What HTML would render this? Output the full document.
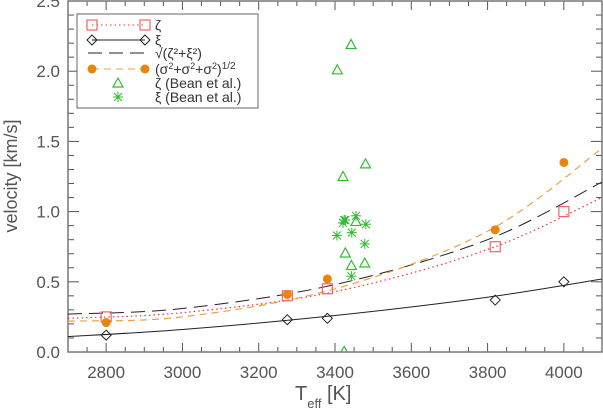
<!DOCTYPE html>
<html><head><meta charset="utf-8"><style>
body{margin:0;background:#fff;}
svg{display:block;font-family:"Liberation Sans",sans-serif;}
</style></head><body>
<svg id="chart" width="603" height="413" viewBox="0 0 603 413" xmlns="http://www.w3.org/2000/svg"></svg>
<script>
const xTicks=[2800,3000,3200,3400,3600,3800,4000];
const yTicks=[0.0,0.5,1.0,1.5,2.0,2.5];
const yTickLabels=["0.0","0.5","1.0","1.5","2.0","2.5"];
const starT=[2800,3275,3380,3820,4000];
const zetaVals=[0.25,0.40,0.45,0.75,1.00];
const xiVals=[0.12,0.23,0.24,0.37,0.50];
const sigmaVals=[0.21,0.41,0.52,0.87,1.35];
const curveT=[2700,3000,3400,3800,4100];
const zetaFit=[0.24,0.28,0.43,0.73,1.10];
const xiFit=[0.11,0.16,0.26,0.39,0.52];
const totFit=[0.27,0.31,0.48,0.80,1.21];
const sigmaFit=[0.22,0.25,0.45,0.86,1.45];
const beanZetaT=[3442,3406,3480,3421,3455,3427,3443,3478,3424];
const beanZetaV=[2.19,2.01,1.34,1.25,0.93,0.705,0.616,0.634,0.005];
const beanXiT=[3424,3421,3455,3481,3405,3444,3478,3443,3427];
const beanXiV=[0.94,0.92,0.97,0.91,0.83,0.85,0.77,0.54,0.94];

const svg=document.getElementById('chart');
const NS='http://www.w3.org/2000/svg';
const X0=68,X1=602,Y0=352,Y1=1;
const xs=t=>X0+(t-2700)/(4100-2700)*(X1-X0);
const ys=v=>Y0-(v/2.5)*(Y0-Y1);
function mk(tag,at,parent){const e=document.createElementNS(NS,tag);for(const k in at)e.setAttribute(k,at[k]);(parent||svg).appendChild(e);return e;}
const AX='#555';
const TX='#555';
const defs=mk('defs',{});const cp=mk('clipPath',{id:'clip'},defs);mk('rect',{x:X0,y:Y1,width:X1-X0,height:Y0-Y1},cp);
const tg=mk('g',{});


for(let t=2700;t<=4100;t+=50){const major=t%200===0;const L=major?9:5;const x=xs(t);
 mk('line',{x1:x,y1:Y0,x2:x,y2:Y0-L,stroke:AX,'stroke-width':1},tg);
 mk('line',{x1:x,y1:Y1,x2:x,y2:Y1+L,stroke:AX,'stroke-width':1},tg);}
for(let i=0;i<=25;i++){const v=i/10;const major=i%5===0;const L=major?11:6;const y=ys(v);
 mk('line',{x1:X0,y1:y,x2:X0+L,y2:y,stroke:AX,'stroke-width':1},tg);
 mk('line',{x1:X1,y1:y,x2:X1-L,y2:y,stroke:AX,'stroke-width':1},tg);}
const frame=mk('rect',{x:X0,y:Y1,width:X1-X0,height:Y0-Y1,fill:'none',stroke:'#777','stroke-width':1.5});


xTicks.forEach(t=>{const e=mk('text',{x:xs(t),y:Y0+26,'text-anchor':'middle','font-size':17,fill:TX});e.textContent=t;
 
 });
yTicks.forEach((v,i)=>{const e=mk('text',{x:X0-8,y:ys(v)+6,'text-anchor':'end','font-size':17,fill:TX});e.textContent=yTickLabels[i];
 
 });
const xt=mk('text',{x:295,y:400,'font-size':20,fill:TX});xt.innerHTML='T<tspan font-size="13" dy="8">eff</tspan><tspan dy="-8"> [K]</tspan>';


const yt=mk('text',{x:0,y:0,'font-size':18,fill:TX,'text-anchor':'middle',transform:'translate(17,176) rotate(-90)'});yt.textContent='velocity [km/s]';


function curvePath(T,V){const p=T.map((t,i)=>[xs(t),ys(V[i])]);let d='M'+p[0][0]+','+p[0][1];
 for(let i=0;i<p.length-1;i++){const p0=p[i-1]||p[i],p1=p[i],p2=p[i+1],p3=p[i+2]||p[i+1];
  const c1=[p1[0]+(p2[0]-p0[0])/6,p1[1]+(p2[1]-p0[1])/6],c2=[p2[0]-(p3[0]-p1[0])/6,p2[1]-(p3[1]-p1[1])/6];
  d+=' C'+c1+' '+c2+' '+p2;}return d;}
const cg=mk('g',{'clip-path':'url(#clip)'});
const c1=mk('path',{d:curvePath(curveT,xiFit),fill:'none',stroke:'#222','stroke-width':1},cg);


const c2=mk('path',{d:curvePath(curveT,zetaFit),fill:'none',stroke:'#e33','stroke-width':1.2,'stroke-dasharray':'1.5 3'},cg);


const c3=mk('path',{d:curvePath(curveT,totFit),fill:'none',stroke:'#222','stroke-width':1,'stroke-dasharray':'14 7'},cg);


const c4=mk('path',{d:curvePath(curveT,sigmaFit),fill:'none',stroke:'#f0a040','stroke-width':1.2,'stroke-dasharray':'7 5'},cg);


function square(x,y,g){return mk('rect',{x:x-5,y:y-5,width:10,height:10,fill:'none',stroke:'#e66','stroke-width':1.2},g);}
function diamond(x,y,g){return mk('path',{d:`M${x},${y-5} L${x+5},${y} L${x},${y+5} L${x-5},${y} Z`,fill:'none',stroke:'#222','stroke-width':1},g);}
function circle(x,y,g){return mk('circle',{cx:x,cy:y,r:4.5,fill:'#e8850a'},g);}
function tri(x,y,g){return mk('path',{d:`M${x},${y-5} L${x+5},${y+4} L${x-5},${y+4} Z`,fill:'none',stroke:'#3b3','stroke-width':1.2},g);}
function star(x,y,g){return mk('path',{d:`M${x-5},${y} H${x+5} M${x},${y-5} V${y+5} M${x-4},${y-4} L${x+4},${y+4} M${x-4},${y+4} L${x+4},${y-4}`,fill:'none',stroke:'#3b3','stroke-width':1},g);}
const mg=mk('g',{'clip-path':'url(#clip)'});
starT.forEach((t,i)=>{let e=square(xs(t),ys(zetaVals[i]),mg);
 
 
 e=diamond(xs(t),ys(xiVals[i]),mg);
 
 
 e=circle(xs(t),ys(sigmaVals[i]),mg);
 
 });
beanZetaT.forEach((t,i)=>{const e=tri(xs(t),ys(beanZetaV[i]),mg);
 
 });
beanXiT.forEach((t,i)=>{const e=star(xs(t),ys(beanXiV[i]),mg);
 
 });
const lg=mk('g',{});


mk('rect',{x:77,y:14,width:181,height:94,fill:'#fff',stroke:'#666','stroke-width':1},lg);
const rows=[25,40,53,69,83,97];
mk('line',{x1:92,y1:rows[0],x2:145,y2:rows[0],stroke:'#e33','stroke-dasharray':'1.5 3'},lg);square(92,rows[0],lg);square(145,rows[0],lg);
mk('line',{x1:92,y1:rows[1],x2:145,y2:rows[1],stroke:'#222'},lg);diamond(92,rows[1],lg);diamond(145,rows[1],lg);
mk('line',{x1:88,y1:rows[2],x2:145,y2:rows[2],stroke:'#222','stroke-dasharray':'14 7'},lg);
mk('line',{x1:92,y1:rows[3],x2:145,y2:rows[3],stroke:'#f0a040','stroke-dasharray':'7 5'},lg);circle(92,rows[3],lg);circle(145,rows[3],lg);
tri(118,rows[4],lg);star(118,rows[5],lg);
const labels=['ζ','ξ','√(ζ²+ξ²)','(σ<tspan dy="-5" font-size="9">2</tspan><tspan dy="5">+σ</tspan><tspan dy="-5" font-size="9">2</tspan><tspan dy="5">+σ</tspan><tspan dy="-5" font-size="9">2</tspan><tspan dy="5">)</tspan><tspan dy="-5" font-size="10">1/2</tspan>','ζ (Bean et al.)','ξ (Bean et al.)'];
labels.forEach((l,i)=>{const e=mk('text',{x:155,y:rows[i]+5,'font-size':14,fill:'#333'},lg);e.innerHTML=l;
 
 });
</script>
</body></html>
